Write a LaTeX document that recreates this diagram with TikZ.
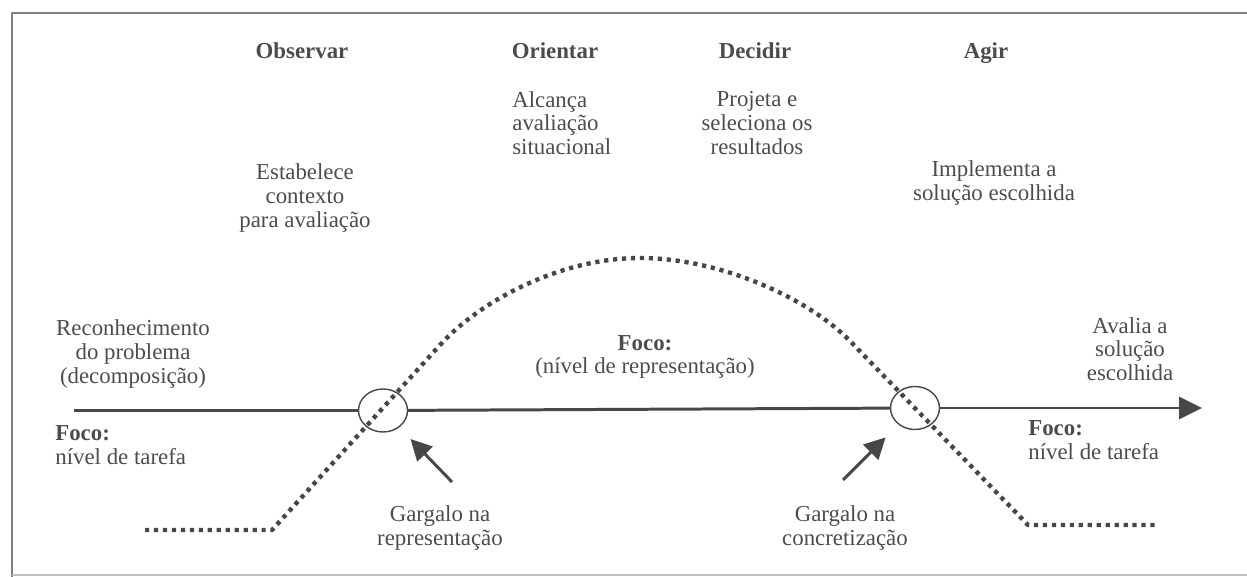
\documentclass[tikz,border=0pt]{standalone}
\usepackage{fontspec}
\setmainfont{Liberation Serif}
\usetikzlibrary{positioning,shapes.geometric,arrows.meta}
\definecolor{ink}{gray}{0.3}
\definecolor{rule}{gray}{0.28}

\begin{document}
\begin{tikzpicture}[
  x=0.2mm,y=-0.2mm,
  lbl/.style={inner sep=0pt,align=center,text=ink,font=\fontsize{13}{13.5}\selectfont},
  head/.style={lbl,anchor=base,font=\fontsize{13}{13.5}\selectfont\bfseries},
  neck/.style={draw=rule,ellipse,line width=0.8pt,minimum width=9.8mm,minimum height=8.6mm,inner sep=0pt},
  axis/.style={draw=rule,line width=1.7pt},
  pointer/.style={draw=rule,line width=1.7pt,-{Triangle[length=12pt,width=12pt]}},
  trace/.style={draw=rule,line width=2.5pt,dash pattern=on 2.4pt off 2.7pt},
  frame/.style={draw=gray,line width=1pt}
]
\useasboundingbox (0,0) rectangle (1247,577);

% Frame
\draw[frame] (12,577) -- (12,13) -- (1247,13);
\draw[frame,draw=gray!50] (12,575) -- (1247,575);

% Phase headers
\node[head] (obs) at (302,59) {Observar};
\node[head] (ori) at (555,59) {Orientar};
\node[head] (dec) at (755,59) {Decidir};
\node[head] (agi) at (986,59) {Agir};

% Phase descriptions
\node[lbl,align=left,anchor=west] (oridesc) at (512,123) {Alcança\\avaliação\\situacional};
\node[lbl] (decdesc) at (757,123) {Projeta e\\seleciona os\\resultados};
\node[lbl] (obsdesc) at (305,198) {Estabelece\\contexto\\para avaliação};
\node[lbl] (agidesc) at (994,183) {Implementa a\\solução escolhida};

% Side notes
\node[lbl] (recog) at (133,354) {Reconhecimento\\do problema\\(decomposição)};
\node[lbl] (evalu) at (1130,349) {Avalia a\\solução\\escolhida};
\node[lbl] (repfoc) at (645,357) {\textbf{Foco:}\\(nível de representação)};
\node[lbl,align=left,anchor=west] (lfoc) at (55,445) {\textbf{Foco:}\\nível de tarefa};
\node[lbl,align=left,anchor=west] (rfoc) at (1028,440) {\textbf{Foco:}\\nível de tarefa};

% Bottlenecks on the axis
\node[neck] (cl) at (383,410.5) {};
\node[neck] (cr) at (915,408) {};
\coordinate (ax0) at (74,410.5);
\coordinate (ax1) at (1202,408);
\draw[axis] (ax0) -- (cl);
\draw[axis] (cl) -- (cr);
\draw[axis,-{Triangle[length=13pt,width=12.5pt]}] (cr) -- (ax1);

\node[lbl] (gl) at (440,528) {Gargalo na\\representação};
\node[lbl] (gr) at (845,528) {Gargalo na\\concretização};
\coordinate (tl) at (452,482);
\coordinate (tr) at (843,480);
\draw[pointer,shorten >=3.2mm] (tl) -- (cl);
\draw[pointer,shorten >=3.6mm] (tr) -- (cr);

% Dotted trace
\draw[trace] (145,530) -- (272,530) -- (440,345)
  .. controls (480,301) and (560,258) .. (640,258)
  .. controls (720,258) and (808,298) .. (850,341)
  -- (1028,525) -- (1155,525);
\end{tikzpicture}
\end{document}
